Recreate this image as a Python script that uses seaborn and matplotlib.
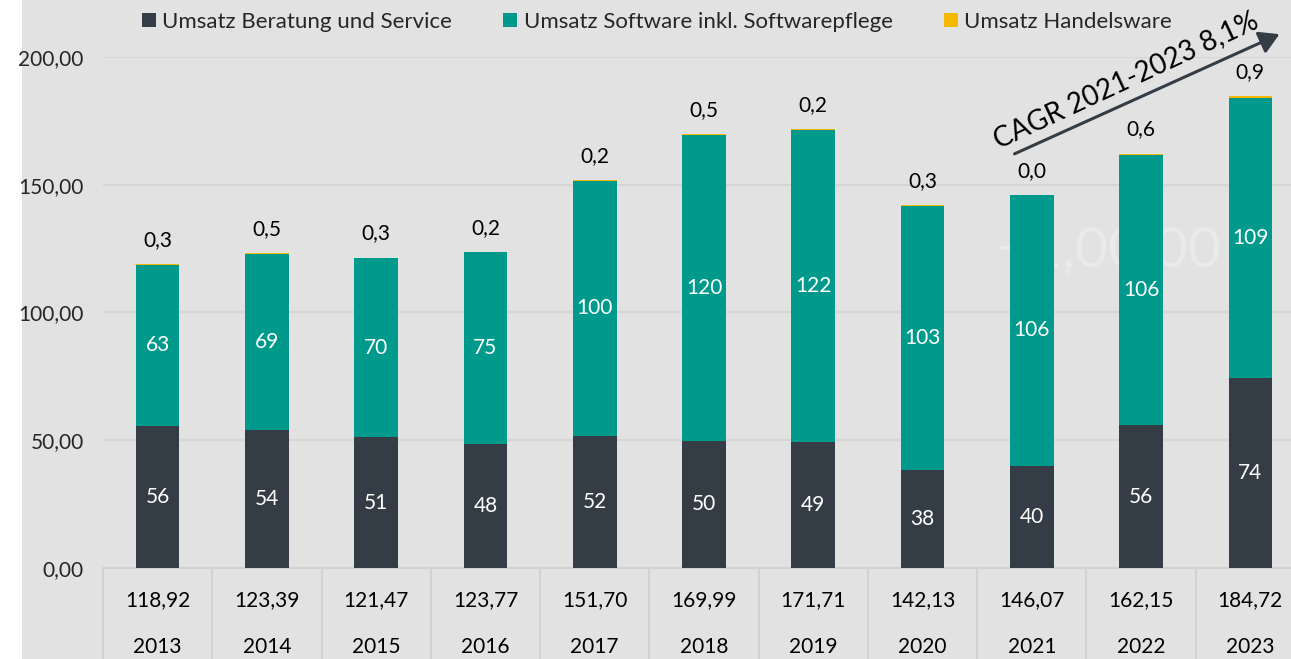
import matplotlib
matplotlib.use("Agg")
import matplotlib.pyplot as plt
from matplotlib.patches import Patch, Rectangle, FancyArrowPatch
import seaborn as sns
import numpy as np

years = ["2013", "2014", "2015", "2016", "2017", "2018", "2019", "2020", "2021", "2022", "2023"]
beratung = [55.7, 54.0, 51.2, 48.4, 51.7, 49.8, 49.3, 38.4, 40.0, 55.8, 74.4]
software = [62.9, 68.9, 70.0, 75.2, 99.8, 119.7, 122.2, 103.4, 106.0, 105.8, 109.4]
handel = [0.3, 0.5, 0.3, 0.2, 0.2, 0.5, 0.2, 0.3, 0.04, 0.6, 0.9]
totals = ["118,92", "123,39", "121,47", "123,77", "151,70", "169,99",
          "171,71", "142,13", "146,07", "162,15", "184,72"]
labels = ["Umsatz Beratung und Service", "Umsatz Software inkl. Softwarepflege", "Umsatz Handelsware"]

c_dark = "#343d46"
c_teal = "#009a8c"
c_yellow = "#f5b800"
bg = "#e2e2e2"
W, H = 1291, 659
fs = 15

sns.set_theme(style="white")
plt.rcParams["font.family"] = ["Lato", "DejaVu Sans"]

fig = plt.figure(figsize=(W / 100, H / 100), dpi=100, facecolor=bg)
fig.patches.append(Rectangle((0, 0), 22 / W, 1, transform=fig.transFigure,
                             facecolor="white", edgecolor="none", zorder=-10))

ax = fig.add_axes([103 / W, (H - 568) / H, 1202 / W, 511 / H])
ax.set_facecolor("none")

# faint decoration in the background
ax.text(8.7, 124, "+1,00.00", fontsize=41, color="#e9eaea", ha="center", va="center", zorder=0)

b = np.array(beratung)
s = np.array(software)
h = np.array(handel)
top = b + s + h

sns.barplot(x=years, y=top, color=c_yellow, width=0.4, saturation=1, linewidth=0, ax=ax, zorder=2)
sns.barplot(x=years, y=b + s, color=c_teal, width=0.4, saturation=1, linewidth=0, ax=ax, zorder=3)
sns.barplot(x=years, y=b, color=c_dark, width=0.4, saturation=1, linewidth=0, ax=ax, zorder=4)

for i in range(len(years)):
    ax.text(i, b[i] / 2, f"{beratung[i]:.0f}", color="white", ha="center", va="center", fontsize=fs, zorder=5)
    ax.text(i, b[i] + s[i] / 2, f"{software[i]:.0f}", color="white", ha="center", va="center", fontsize=fs, zorder=5)
    ax.annotate(f"{handel[i]:.1f}".replace(".", ","), xy=(i, top[i]), xytext=(0, 24),
                textcoords="offset pixels", ha="center", va="center", fontsize=fs, color="black")
    # table below
    ax.annotate(totals[i], xy=(i, 0), xycoords=ax.get_xaxis_transform(), xytext=(0, -32),
                textcoords="offset pixels", ha="center", va="center", fontsize=fs, color="black",
                annotation_clip=False)
    ax.annotate(years[i], xy=(i, 0), xycoords=ax.get_xaxis_transform(), xytext=(0, -79),
                textcoords="offset pixels", ha="center", va="center", fontsize=fs, color="black",
                annotation_clip=False)

for i in range(len(years) + 1):
    ax.plot([i - 0.5, i - 0.5], [0, -0.25], transform=ax.get_xaxis_transform(),
            color="#d2d2d2", lw=1.5, clip_on=False, zorder=1)
ax.plot([-0.5, 10.5], [0, 0], transform=ax.get_xaxis_transform(),
        color="#d2d2d2", lw=1.5, clip_on=False, zorder=1)

ax.set_xlim(-0.5, 10.5)
ax.set_ylim(0, 200)
ax.set_yticks([0, 50, 100, 150, 200])
ax.set_yticklabels(["0,00", "50,00", "100,00", "150,00", "200,00"], fontsize=fs)
ax.tick_params(axis="y", length=0, pad=14)
ax.set_xticks([])
ax.set_xlabel("")
ax.set_ylabel("")
for sp in ax.spines.values():
    sp.set_visible(False)
ax.yaxis.grid(True, color="#d6d6d6", lw=1.5)
ax.set_axisbelow(True)

handles = [Patch(facecolor=c, edgecolor="none") for c in (c_dark, c_teal, c_yellow)]
fig.legend(handles, labels, loc="center", bbox_to_anchor=(657 / W, 1 - 22 / H), ncol=3,
           frameon=False, fontsize=16, handlelength=0.62, handleheight=0.62,
           handletextpad=0.3, columnspacing=2.3)

# CAGR arrow
fig.add_artist(FancyArrowPatch(
    (1012 / W, 1 - 155 / H), (1282 / W, 1 - 33 / H), transform=fig.transFigure,
    arrowstyle="-|>,head_length=12,head_width=7", color=c_dark, lw=2.2, mutation_scale=1))
fig.text(1126 / W, 1 - 80 / H, "CAGR 2021-2023 8,1%", fontsize=20, rotation=25,
         rotation_mode="anchor", ha="center", va="center", color="black")

fig.savefig("out.png", dpi=100, facecolor=bg)
